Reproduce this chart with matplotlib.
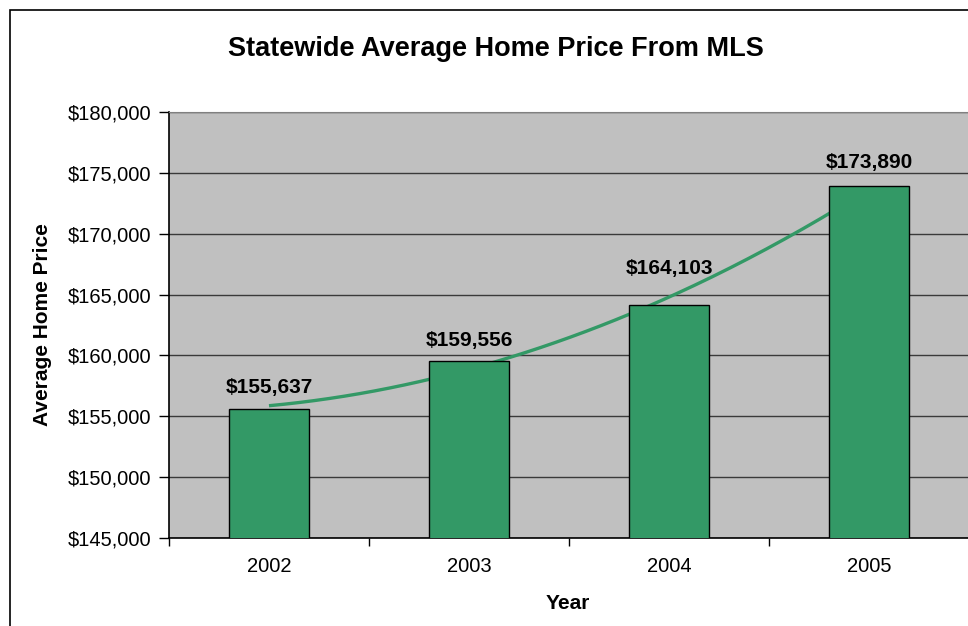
import numpy as np
import matplotlib
matplotlib.use("Agg")
import matplotlib.pyplot as plt
from matplotlib.patches import Rectangle
from matplotlib.ticker import FuncFormatter, MultipleLocator, FixedLocator

plt.rcParams['font.family'] = ['Liberation Sans', 'DejaVu Sans']

years = ['2002', '2003', '2004', '2005']
avg_price = [155637, 159556, 164103, 173890]
value_labels = ['$155,637', '$159,556', '$164,103', '$173,890']

BAR_GREEN = '#339966'
PLOT_GREY = '#C0C0C0'

W, H = 968, 626
fig = plt.figure(figsize=(W / 100, H / 100), dpi=100)

# chart frame (extends past the right/bottom edges)
fig.patches.append(Rectangle((10 / W, -0.1), 1.2, 1 - 10 / H + 0.1,
                             transform=fig.transFigure, fill=False,
                             edgecolor='black', linewidth=1.2, zorder=0))

ax = fig.add_axes([169 / W, (H - 538) / H, 800 / W, 426 / H])
ax.set_facecolor(PLOT_GREY)

x = np.arange(len(years))
ax.bar(x, avg_price, width=0.4, color=BAR_GREEN, edgecolor='black',
       linewidth=1.0, zorder=3)

# second-order polynomial trendline, drawn behind the bars
coef = np.polyfit(x, avg_price, 2)
xs = np.linspace(x[0], x[-1], 200)
ax.plot(xs, np.polyval(coef, xs), color=BAR_GREEN, linewidth=2.4,
        zorder=2.5, solid_capstyle='butt')

label_offsets = [11, 11, 23, 13]
for xi, v, lab, off in zip(x, avg_price, value_labels, label_offsets):
    ax.annotate(lab, (xi, v), xytext=(0, off), textcoords='offset points',
                ha='center', va='baseline', fontsize=15, fontweight='bold',
                zorder=5)

ax.set_xlim(-0.5, 3.5)
ax.set_ylim(145000, 180000)
ax.yaxis.set_major_locator(MultipleLocator(5000))
ax.yaxis.set_major_formatter(FuncFormatter(lambda v, p: f'${v:,.0f}'))
ax.grid(axis='y', color='#3a3a3a', linewidth=1.0, zorder=1)
ax.set_axisbelow(True)

ax.set_xticks(x)
ax.set_xticklabels(years)
ax.xaxis.set_minor_locator(FixedLocator([-0.5, 0.5, 1.5, 2.5]))
ax.tick_params(axis='x', which='major', length=0, pad=14, labelsize=14.5)
ax.tick_params(axis='x', which='minor', length=6, width=1, color='black')
ax.tick_params(axis='y', length=7, width=1, pad=6, labelsize=14.5)

for side in ['left', 'bottom']:
    ax.spines[side].set_color('black')
    ax.spines[side].set_linewidth(1.2)
ax.spines['top'].set_color('#808080')
ax.spines['right'].set_visible(False)

ax.set_xlabel('Year', fontsize=15, fontweight='bold')
ax.set_ylabel('Average Home Price', fontsize=15, fontweight='bold')
ax.yaxis.set_label_coords(-(169 - 52) / 800, 0.5)
ax.xaxis.set_label_coords((568 - 169) / 800, -(594 - 538) / 426)

fig.text(496 / W, 1 - 49 / H, 'Statewide Average Home Price From MLS',
         ha='center', va='center', fontsize=19.5, fontweight='bold')

fig.savefig('out.png', dpi=100)
